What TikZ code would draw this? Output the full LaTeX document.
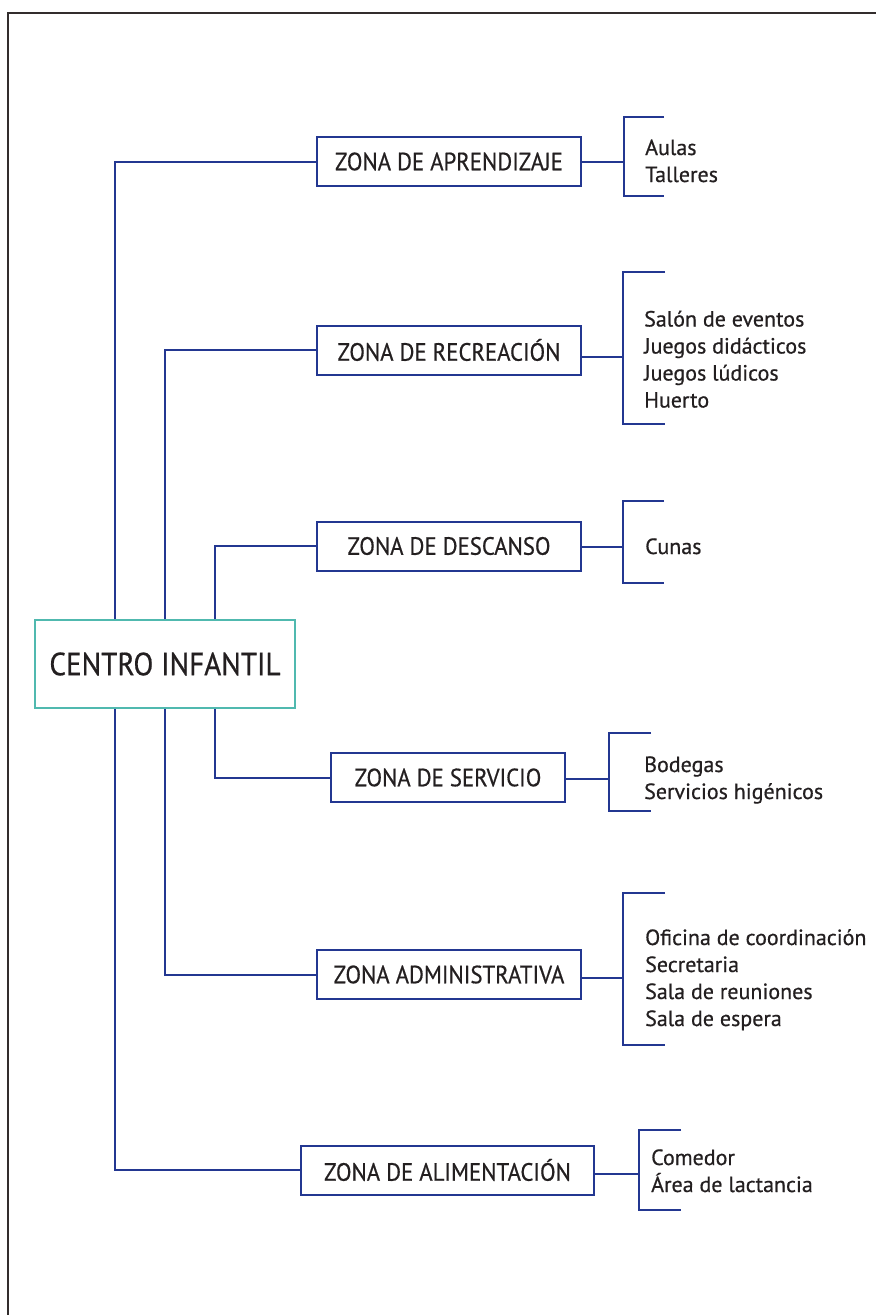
\documentclass[tikz,border=0pt]{standalone}
\usepackage{fontspec}
\setmainfont[FakeBold=0.6]{PT Sans}
\newfontfamily\condfont[FakeStretch=0.91,FakeBold=0.6]{PT Sans}
\newfontfamily\listfont[FakeBold=0.6]{PT Sans}
\definecolor{lineblue}{RGB}{35,55,145}
\definecolor{teal2}{RGB}{80,185,175}
\definecolor{txt}{RGB}{35,31,32}
\definecolor{framec}{RGB}{50,45,45}
\begin{document}
\begin{tikzpicture}[x=1pt,y=-1pt,
  zone/.style={draw=lineblue,line width=2pt,minimum height=49pt,inner sep=0pt,
    text=txt,font=\condfont\fontsize{25}{29}\selectfont},
  mainbox/.style={draw=teal2,line width=2pt,minimum width=260pt,minimum height=88pt,inner sep=0pt,
    text=txt,font=\condfont\fontsize{32}{36}\selectfont},
  conn/.style={draw=lineblue,line width=2pt},
  items/.style={anchor=base west,inner sep=0pt,align=left,text=txt,
    font=\listfont\fontsize{22}{27}\selectfont},
  framel/.style={draw=framec,line width=2.2pt}
]
\useasboundingbox (0,0) rectangle (876,1315);
\draw[framel] (8,1316) -- (8,13) -- (876,13);

\node[mainbox] (ci) at (165,664) {CENTRO INFANTIL};

\coordinate (xa) at (115,0);
\coordinate (xb) at (165,0);
\coordinate (xc) at (215,0);

\node[zone,minimum width=264pt] (apr) at (449,161.5) {ZONA DE APRENDIZAJE};
\node[zone,minimum width=264pt] (rec) at (449,350) {ZONA DE RECREACIÓN};
\node[zone,minimum width=264pt] (des) at (449,546) {ZONA DE DESCANSO};
\node[zone,minimum width=234pt] (ser) at (448,777.5) {ZONA DE SERVICIO};
\node[zone,minimum width=264pt] (adm) at (449,974.5) {ZONA ADMINISTRATIVA};
\node[zone,minimum width=293pt] (ali) at (447.5,1170) {ZONA DE ALIMENTACIÓN};

% left connectors
\draw[conn] (ci.north -| xa) |- (apr.west);
\draw[conn] (ci.north -| xb) |- (rec.west);
\draw[conn] (ci.north -| xc) |- (des.west);
\draw[conn] (ci.south -| xc) |- (ser.west);
\draw[conn] (ci.south -| xb) |- (adm.west);
\draw[conn] (ci.south -| xa) |- (ali.west);

% brackets
\coordinate (bapr) at (624,162);
\coordinate (brec) at (623,357);
\coordinate (bdes) at (623,547);
\coordinate (bser) at (609,779);
\coordinate (badm) at (623,978);
\coordinate (bali) at (639,1174);

\draw[conn] (apr.east |- bapr) -- (bapr);
\draw[conn] (664,117) -- (624,117) -- (624,196) -- (664,196);
\draw[conn] (rec.east |- brec) -- (brec);
\draw[conn] (665,272) -- (623,272) -- (623,424) -- (665,424);
\draw[conn] (des.east |- bdes) -- (bdes);
\draw[conn] (664,501) -- (623,501) -- (623,583) -- (664,583);
\draw[conn] (ser.east |- bser) -- (bser);
\draw[conn] (651,733) -- (609,733) -- (609,811) -- (651,811);
\draw[conn] (adm.east |- badm) -- (badm);
\draw[conn] (665,893) -- (623,893) -- (623,1045) -- (665,1045);
\draw[conn] (ali.east |- bali) -- (bali);
\draw[conn] (681,1130) -- (639,1130) -- (639,1210) -- (681,1210);

% item lists (anchored at the baseline of the last line)
\node[items] (tapr) at (645,182) {Aulas\\Talleres};
\node[items] (trec) at (644,407.5) {Salón de eventos\\Juegos didácticos\\Juegos lúdicos\\Huerto};
\node[items] (tdes) at (645,554) {Cunas};
\node[items] (tser) at (644,799) {Bodegas\\Servicios higénicos};
\node[items] (tadm) at (645,1026) {Oficina de coordinación\\Secretaria\\Sala de reuniones\\Sala de espera};
\node[items] (tali) at (651,1192) {Comedor\\Área de lactancia};
\end{tikzpicture}
\end{document}
